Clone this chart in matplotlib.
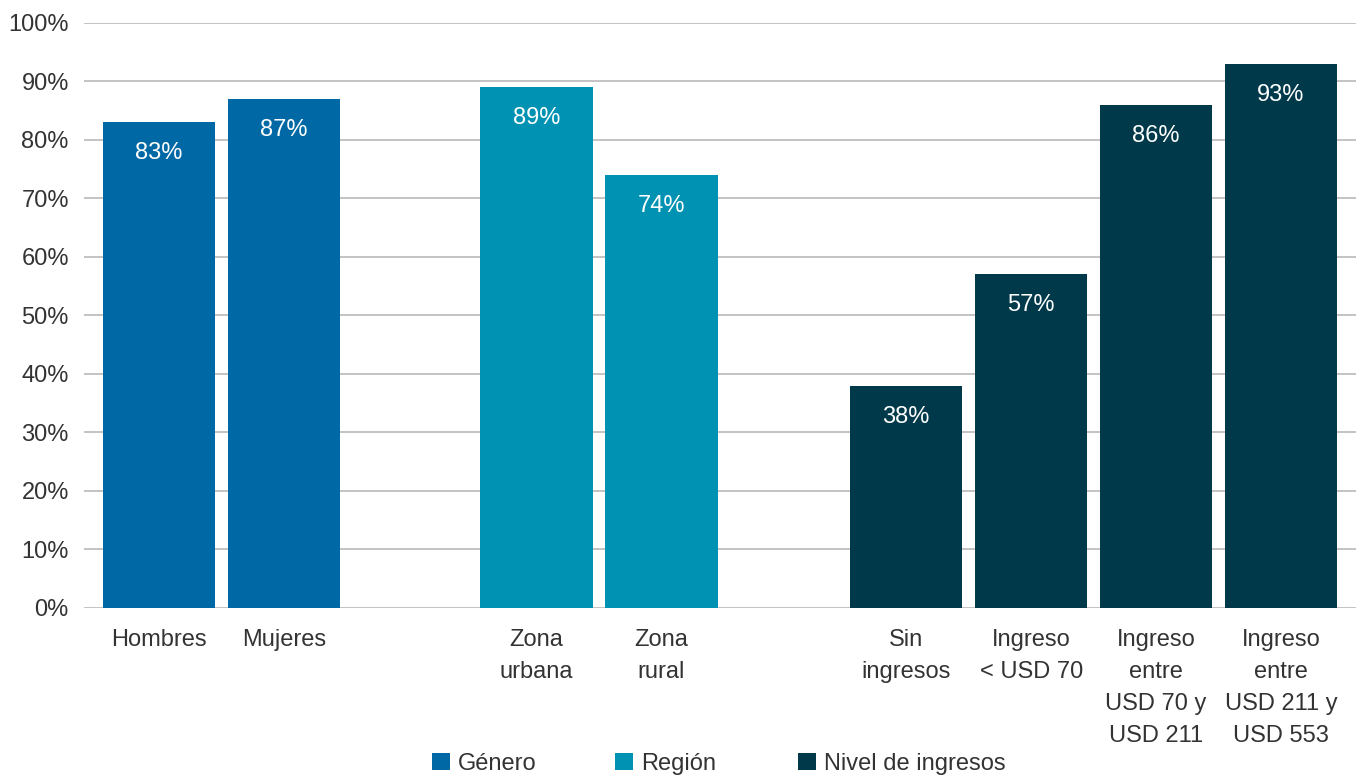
import matplotlib.pyplot as plt
from matplotlib.patches import Patch

plt.rcParams['font.family'] = ['Liberation Sans', 'DejaVu Sans']

categories = ["Hombres", "Mujeres", "Zona\nurbana", "Zona\nrural",
              "Sin\ningresos", "Ingreso\n< USD 70",
              "Ingreso\nentre\nUSD 70 y\nUSD 211",
              "Ingreso\nentre\nUSD 211 y\nUSD 553"]
values = [83, 87, 89, 74, 38, 57, 86, 93]
groups = ["Género", "Género", "Región", "Región",
          "Nivel de ingresos", "Nivel de ingresos",
          "Nivel de ingresos", "Nivel de ingresos"]
group_names = ["Género", "Región", "Nivel de ingresos"]
group_colors = {"Género": "#0068A4", "Región": "#0092B3",
                "Nivel de ingresos": "#003A4A"}
# one empty slot between groups
positions = [0, 1, 3.02, 4.02, 5.98, 6.98, 7.98, 8.98]

text_color = "#333333"
fsize = 17

fig = plt.figure(figsize=(13.56, 7.76), dpi=100)
ax = fig.add_axes([0.062, 0.2165, 0.938, 0.754])

colors = [group_colors[g] for g in groups]
ax.bar(positions, values, width=0.9, color=colors, zorder=2)

for x, v in zip(positions, values):
    ax.text(x, v - 5.3, f"{v}%", ha="center", va="center",
            color="white", fontsize=fsize, zorder=3)

ax.set_ylim(0, 100)
ax.set_xlim(-0.6, 9.58)
ax.set_yticks(range(0, 101, 10))
ax.set_yticklabels([f"{t}%" for t in range(0, 101, 10)],
                   fontsize=fsize, color=text_color)
ax.set_xticks(positions)
ax.set_xticklabels(categories, fontsize=fsize, color=text_color,
                   linespacing=1.6, va="top")
ax.tick_params(axis="both", length=0)
ax.tick_params(axis="x", pad=15)
ax.tick_params(axis="y", pad=11)
ax.grid(axis="y", color="#BEBEBE", linewidth=1.3, zorder=0)
for s in ax.spines.values():
    s.set_visible(False)

# legend entries sit in equal-width columns
leg_x0 = 432 / 1356
leg_step = 183 / 1356
for i, g in enumerate(group_names):
    leg = fig.legend(handles=[Patch(facecolor=group_colors[g], label=g)],
                     loc="center left",
                     bbox_to_anchor=(leg_x0 + i * leg_step, 0.016),
                     frameon=False, fontsize=fsize, handlelength=0.76,
                     handleheight=0.76, handletextpad=0.34,
                     borderpad=0, borderaxespad=0)
    for t in leg.get_texts():
        t.set_color(text_color)

fig.savefig("out.png", dpi=100)
